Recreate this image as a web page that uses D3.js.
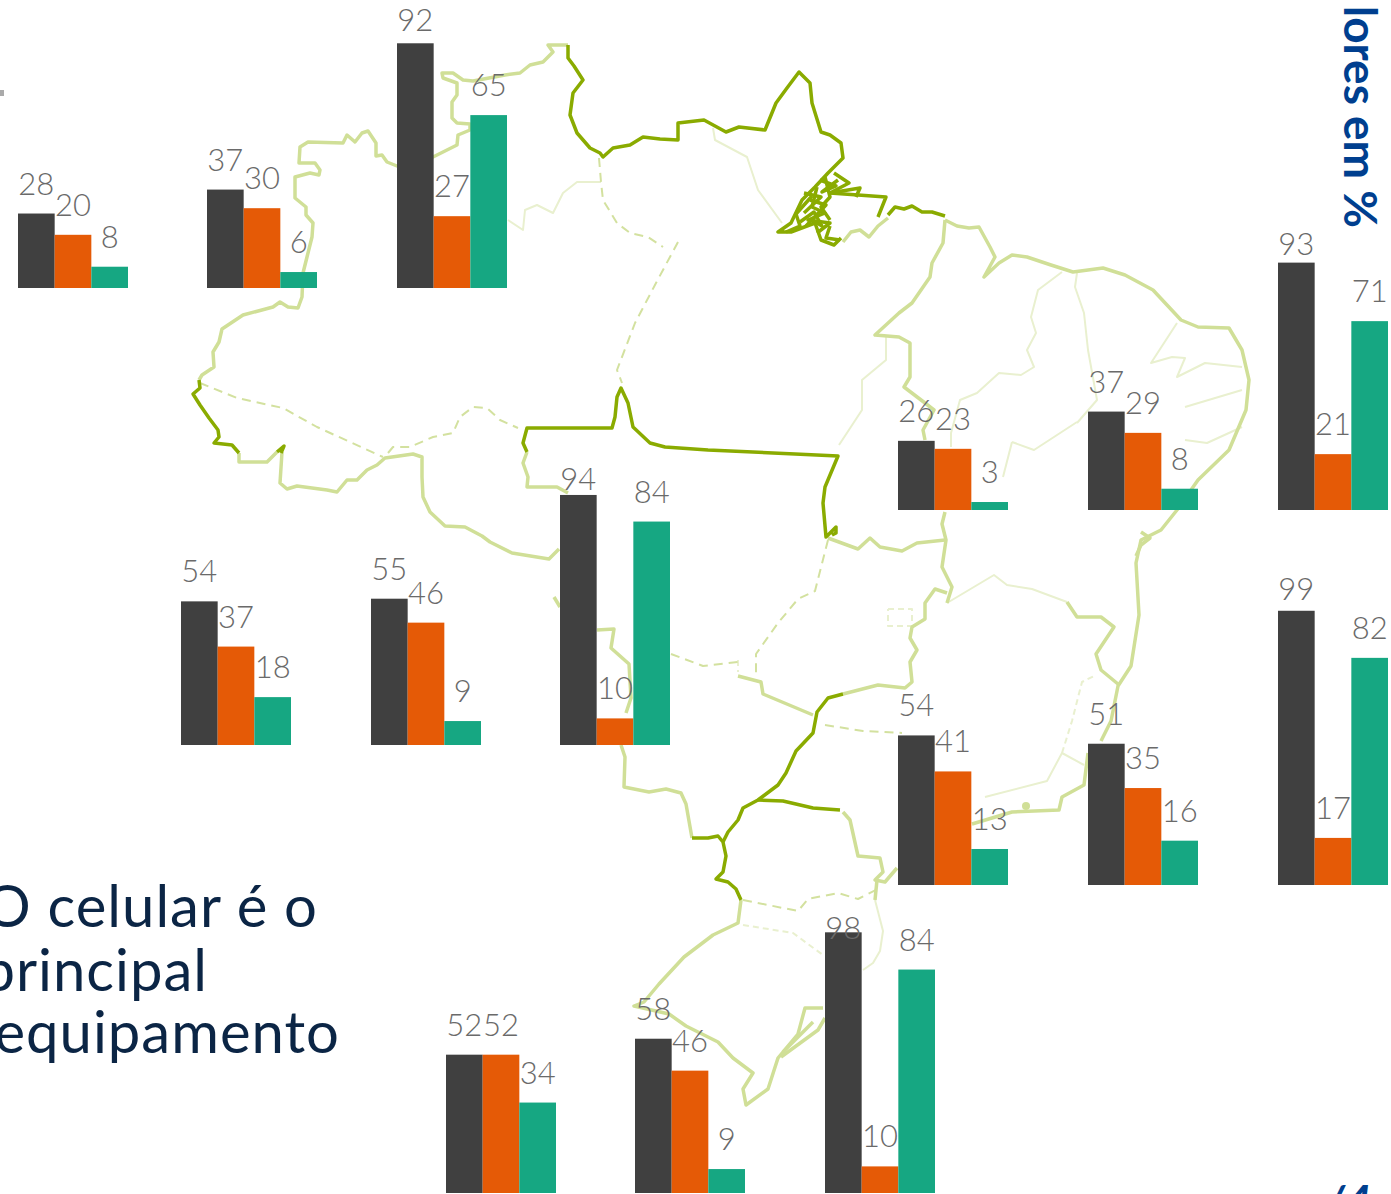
<!DOCTYPE html>
<html>
<head>
<meta charset="utf-8">
<script src="https://cdn.jsdelivr.net/npm/d3@7"></script>
<style>
  html, body { margin: 0; padding: 0; background: #fff; overflow: hidden; }
</style>
</head>
<body>
<div id="chart"></div>
<script>
// values, 5 rows of 3 small charts
const seriesNames = ['A', 'B', 'C'];
const darkValues = [28, 37, 92, 26, 37, 93, 54, 55, 94, 54, 51, 99, 52, 58, 98];
const orangeValues = [20, 30, 27, 23, 29, 21, 37, 46, 10, 41, 35, 17, 52, 46, 10];
const greenValues = [8, 6, 65, 3, 8, 71, 18, 9, 84, 13, 16, 82, 34, 9, 84];
const seriesColors = ['#404040', '#e55a06', '#16a782'];

const textLines = ['O celular é o', 'principal', 'equipamento'];

// layout of the small charts
const rowLefts = [
  [18, 207, 397],
  [898, 1088, 1278],
  [181, 371, 560],
  [898, 1088, 1278],
  [446, 635, 825]
];
const rowBases = [288, 510, 745, 885, 1193];
const rowHeights = [266, 266, 266, 277, 266];
const groupWidth = 110;
const labelGap = 19;
// labels that sit closer to the bar than the others, by group and series
const labelGapOverrides = { '2-0': 12, '5-0': 8, '8-0': 5, '11-0': 11, '14-0': -7 };

// traced outline of the map, in page pixels
const strong = [
  [[199, 380], [200, 388], [193, 394], [200, 405], [209, 418], [218, 430], [219, 437], [214, 443], [232, 445], [239, 453]],
  [[277, 452], [284, 446], [281, 453]],
  [[568, 45], [568, 58], [574, 66], [583, 80], [573, 93], [570, 115], [577, 133], [590, 148], [600, 153], [603, 157], [613, 148], [630, 145], [643, 137], [660, 139], [678, 140], [678, 123], [704, 120], [726, 132], [739, 127], [765, 130], [776, 103], [787, 88], [799, 72], [810, 83], [812, 103], [821, 132], [830, 135], [841, 143], [843, 158], [828, 173], [815, 187], [802, 200], [791, 223], [778, 232], [791, 232], [815, 223], [821, 240], [834, 245], [841, 238]],
  [[834, 173], [849, 183], [830, 193], [886, 197], [878, 217]],
  [[830, 193], [860, 188], [856, 197]],
  [[817, 187], [812, 207], [825, 213], [808, 220], [830, 223], [817, 233]],
  [[825, 177], [830, 197], [821, 207], [830, 220]],
  [[804, 193], [821, 197], [804, 213]],
  [[810, 200], [826, 205], [806, 226]],
  [[820, 180], [836, 186], [822, 192], [838, 180]],
  [[800, 222], [814, 212], [822, 226], [812, 220]],
  [[786, 232], [800, 226], [796, 214], [812, 196]],
  [[830, 226], [826, 238], [840, 240]],
  [[888, 215], [895, 207], [904, 209], [912, 206], [922, 212], [932, 212], [945, 216]],
  [[527, 452], [523, 443], [527, 428], [612, 428], [615, 417], [617, 397], [621, 388], [628, 403], [633, 427], [650, 443], [665, 447], [708, 450], [795, 454], [838, 456], [825, 487], [823, 503], [826, 537], [836, 527], [836, 533], [832, 535]],
  [[692, 838], [708, 838], [718, 836], [723, 842], [726, 856], [723, 872], [716, 879], [728, 882], [736, 889], [741, 900]],
  [[843, 694], [828, 698], [817, 712], [813, 733], [796, 751], [786, 773], [778, 785], [758, 800], [743, 808], [738, 820], [728, 832], [723, 842]],
  [[758, 800], [783, 801], [813, 808], [840, 810]]
];
const medium = [
  [[568, 45], [548, 45], [553, 52], [543, 62], [530, 65], [520, 73], [505, 75], [473, 81], [463, 80], [453, 73], [442, 73], [443, 78], [457, 83], [457, 95], [452, 102], [452, 118], [457, 123], [470, 124], [470, 130], [458, 135], [457, 145], [447, 150], [433, 157], [397, 166], [387, 162], [382, 155], [376, 156], [376, 143], [368, 131], [362, 133], [355, 142], [347, 135], [343, 143], [308, 142], [300, 147], [299, 163], [315, 163], [320, 170], [319, 175], [310, 173], [295, 177], [295, 198], [306, 207], [306, 215], [313, 223], [312, 237], [307, 257], [303, 273], [302, 297], [298, 308], [288, 307], [280, 302], [273, 307], [243, 315], [222, 329], [219, 342], [213, 352], [214, 367], [202, 375], [199, 380]],
  [[239, 453], [239, 462], [267, 462], [277, 452]],
  [[282, 452], [280, 483], [287, 489], [297, 486], [327, 490], [337, 492], [347, 480], [357, 480], [367, 470], [377, 465], [385, 458], [413, 454], [422, 457], [422, 477], [423, 497], [430, 512], [445, 526], [465, 527], [482, 536], [490, 542], [512, 553], [549, 559], [559, 549]],
  [[554, 597], [560, 607]],
  [[527, 452], [523, 463], [528, 477], [527, 487], [557, 487], [568, 493]],
  [[597, 630], [614, 629], [611, 648], [629, 664], [631, 698], [626, 713]],
  [[621, 745], [625, 757], [624, 787], [649, 792], [666, 789], [681, 793], [686, 804], [692, 838]],
  [[843, 812], [850, 820], [858, 856], [880, 858], [883, 872], [875, 880], [885, 882], [897, 868]],
  [[877, 880], [875, 900]],
  [[741, 900], [738, 923], [713, 935], [684, 957], [659, 984], [644, 1002], [634, 1006], [669, 1014], [686, 1026], [718, 1042], [733, 1058], [753, 1073], [743, 1089], [746, 1105], [768, 1089], [778, 1058], [798, 1034], [805, 1008], [823, 1008]],
  [[781, 1057], [818, 1030], [825, 1018]],
  [[783, 1052], [813, 1022]],
  [[843, 242], [851, 232], [860, 230], [869, 237], [878, 226], [888, 218]],
  [[945, 220], [957, 226], [969, 228], [979, 227], [990, 247], [995, 257], [984, 277], [999, 263], [1012, 255], [1027, 257], [1051, 265], [1073, 272], [1103, 268], [1125, 275], [1153, 290], [1181, 320], [1198, 327], [1229, 328], [1242, 350], [1249, 380], [1246, 410], [1229, 450], [1198, 480], [1177, 510], [1161, 530], [1141, 540], [1136, 563], [1139, 615], [1131, 666], [1118, 686], [1111, 721], [1101, 741]],
  [[1141, 532], [1150, 538], [1141, 545], [1136, 556]],
  [[1088, 753], [1084, 785], [1062, 797], [1059, 810], [1012, 812], [972, 824]],
  [[945, 220], [943, 243], [932, 263], [930, 277], [912, 303], [899, 313], [875, 335], [899, 337], [910, 343], [910, 377], [904, 387], [925, 403], [934, 410], [923, 430], [925, 440]],
  [[945, 512], [942, 524], [946, 540], [942, 567], [952, 587], [947, 603]],
  [[828, 538], [858, 549], [870, 538], [880, 547], [902, 551], [917, 543], [945, 540]],
  [[1067, 602], [1077, 617], [1101, 617], [1114, 627], [1096, 654], [1101, 670], [1118, 684]],
  [[947, 593], [935, 589], [925, 603], [925, 619], [912, 627], [910, 638], [917, 650], [910, 662], [912, 682], [905, 688], [878, 685], [843, 694]],
  [[738, 676], [761, 682], [763, 694], [813, 715]]
];
const mediumDashed = [
  [[200, 383], [237, 398], [283, 408], [317, 427], [383, 457]],
  [[388, 453], [393, 447], [410, 447], [433, 437], [453, 433], [460, 417], [473, 407], [487, 408], [500, 420], [518, 428]],
  [[599, 158], [601, 182], [603, 200], [617, 223], [630, 233], [648, 237], [663, 247]],
  [[678, 242], [656, 283], [635, 323], [617, 370], [622, 383]],
  [[743, 900], [798, 911], [808, 899], [838, 893], [858, 899], [878, 889]],
  [[825, 725], [863, 731], [902, 733]],
  [[828, 540], [815, 591], [798, 599], [778, 623], [756, 654], [756, 678]],
  [[671, 654], [703, 666], [738, 662]]
];
const pale = [
  [[601, 182], [577, 182], [563, 193], [553, 213], [537, 205], [525, 210], [523, 230], [508, 220]],
  [[947, 603], [994, 575], [1007, 585], [1032, 589], [1067, 602]],
  [[875, 900], [883, 931], [880, 951], [873, 963], [863, 970]],
  [[985, 797], [1047, 781], [1062, 753], [1084, 765]],
  [[1062, 272], [1038, 290], [1031, 317], [1036, 333], [1027, 350], [1034, 367], [1021, 375], [999, 373], [977, 393], [960, 400], [951, 433], [951, 447]],
  [[1077, 273], [1075, 287], [1084, 313], [1088, 350], [1097, 400], [1077, 423]],
  [[886, 337], [886, 360], [862, 380], [862, 410], [839, 445]],
  [[713, 128], [715, 140], [747, 157], [758, 190], [782, 223]],
  [[1177, 323], [1151, 363], [1172, 357], [1185, 358], [1177, 377], [1205, 363], [1242, 367]],
  [[1242, 390], [1185, 407]],
  [[1242, 427], [1207, 443], [1185, 440]],
  [[1012, 442], [1034, 450], [1077, 422]],
  [[1012, 442], [1003, 477]]
];
const paleDashed = [
  [[743, 925], [793, 933], [823, 955]],
  [[888, 609], [912, 609], [912, 626], [888, 626], [888, 609]],
  [[1062, 753], [1072, 721], [1082, 682], [1094, 676]],
  [[738, 660], [738, 672]]
];

const width = 1391;
const height = 1194;

const svg = d3
  .select('#chart')
  .append('svg')
  .attr('width', width)
  .attr('height', height)
  .style('display', 'block');

const lineGen = d3.line();

function drawMapLines(lines, color, strokeWidth, dash) {
  svg
    .append('g')
    .attr('fill', 'none')
    .attr('stroke', color)
    .attr('stroke-width', strokeWidth)
    .attr('stroke-linejoin', 'round')
    .attr('stroke-dasharray', dash)
    .selectAll('path')
    .data(lines)
    .join('path')
    .attr('d', lineGen);
}

drawMapLines(pale, '#e9f0cf', 2, null);
drawMapLines(paleDashed, '#e9f0cf', 2, '6 4');
drawMapLines(mediumDashed, '#d3e19f', 2, '9 6');
drawMapLines(medium, '#d0df97', 3.5, null);
drawMapLines(strong, '#8aab00', 3.5, null);

svg.append('circle').attr('cx', 1026).attr('cy', 806).attr('r', 4).attr('fill', '#d0df97');

// small bar charts
const allSeries = [darkValues, orangeValues, greenValues];
const labelFont = 'Lato, sans-serif';

rowLefts.forEach((lefts, row) => {
  const y = d3
    .scaleLinear()
    .domain([0, 100])
    .range([rowBases[row], rowBases[row] - rowHeights[row]]);

  lefts.forEach((left, col) => {
    const index = row * 3 + col;
    const x = d3.scaleBand().domain(seriesNames).range([left, left + groupWidth]);
    const group = svg.append('g');
    const values = seriesNames.map((name, i) => ({ name, i, value: allSeries[i][index] }));

    group
      .selectAll('rect')
      .data(values)
      .join('rect')
      .attr('x', (d) => x(d.name))
      .attr('y', (d) => y(d.value))
      .attr('width', x.bandwidth())
      .attr('height', (d) => y(0) - y(d.value))
      .attr('fill', (d) => seriesColors[d.i]);

    group
      .selectAll('text')
      .data(values)
      .join('text')
      .attr('x', (d) => x(d.name) + x.bandwidth() / 2)
      .attr('y', (d) => {
        const gap = labelGapOverrides[`${index}-${d.i}`];
        return y(d.value) - (gap === undefined ? labelGap : gap);
      })
      .attr('text-anchor', 'middle')
      .attr('font-family', labelFont)
      .attr('font-weight', 300)
      .attr('font-size', 31)
      .attr('fill', '#6a6a6a')
      .text((d) => d.value);
  });
});

// text block on the left, cut by the page edge
const textRight = [318, 208, 340];
const textBase = [927, 991, 1053];
svg
  .append('g')
  .selectAll('text')
  .data(textLines)
  .join('text')
  .attr('x', (d, i) => textRight[i])
  .attr('y', (d, i) => textBase[i])
  .attr('text-anchor', 'end')
  .attr('font-family', 'Lato, sans-serif')
  .attr('font-weight', 400)
  .attr('font-size', 58)
  .attr('letter-spacing', 1)
  .attr('fill', '#0b2545')
  .text((d) => d);

// vertical heading, cut just below the top of the page
svg
  .append('clipPath')
  .attr('id', 'headingClip')
  .append('rect')
  .attr('x', 1300)
  .attr('y', 3)
  .attr('width', 91)
  .attr('height', 240);

svg
  .append('g')
  .attr('clip-path', 'url(#headingClip)')
  .append('text')
  .attr('transform', 'translate(1344, 228) rotate(90)')
  .attr('text-anchor', 'end')
  .attr('font-family', 'Lato, sans-serif')
  .attr('font-weight', 700)
  .attr('font-size', 46)
  .attr('fill', '#003f8f')
  .text('Valores em %');

// page number cut by the bottom edge, and the stray mark on the left
svg
  .append('text')
  .attr('x', 1325)
  .attr('y', 1218)
  .attr('font-family', 'Lato, sans-serif')
  .attr('font-weight', 700)
  .attr('font-style', 'italic')
  .attr('font-size', 46)
  .attr('fill', '#003f8f')
  .text('/4');

svg.append('rect').attr('x', 0).attr('y', 90).attr('width', 4).attr('height', 6).attr('fill', '#aaaaaa');
</script>
</body>
</html>
